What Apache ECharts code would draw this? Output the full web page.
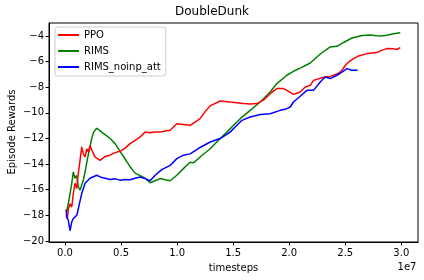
<!DOCTYPE html>
<html>
<head>
<meta charset="utf-8">
<script src="https://cdn.jsdelivr.net/npm/echarts@6/dist/echarts.min.js"></script>
<style>html,body{margin:0;padding:0;background:#fff}#c{width:424px;height:280px}</style>
</head>
<body>
<div id="c"></div>
<script>
// x values in millions of timesteps, y values = episode rewards
const ppoX = [0.1,0.2,0.3,0.45,0.6,0.74,0.89,1.04,1.19,1.34,1.49,1.63,1.79,1.94,2.08,2.23,2.38,2.68,3.13,3.57,4.02,4.46,4.91,5.36,5.8,6.25,6.7,7.14,7.59,8.04,8.48,8.93,9.38,9.97,10.56,11.16,12.05,12.5,12.95,13.84,14.73,15.33,15.92,16.52,17.12,17.7,18.01,18.3,18.9,19.5,19.79,20.38,20.98,21.43,21.88,22.17,22.77,23.21,23.66,23.96,24.4,24.7,25.0,25.29,25.74,26.2,26.94,27.83,28.3,28.72,29.31,29.6,29.91];
const ppoY = [-18.0,-18.25,-17.5,-17.1,-17.35,-16.3,-15.5,-15.9,-14.7,-13.7,-12.65,-13.2,-13.45,-12.8,-13.05,-12.55,-12.9,-13.45,-13.7,-13.4,-13.3,-13.1,-13.0,-12.75,-12.4,-12.15,-11.88,-11.5,-11.55,-11.5,-11.5,-11.42,-11.36,-10.84,-10.9,-10.97,-10.45,-9.9,-9.45,-9.07,-9.15,-9.2,-9.27,-9.3,-9.27,-9.0,-8.76,-8.5,-8.1,-8.1,-8.24,-8.55,-8.37,-7.98,-7.85,-7.46,-7.3,-7.2,-7.15,-7.06,-6.9,-6.67,-6.3,-6.03,-5.76,-5.55,-5.37,-5.29,-5.1,-4.98,-5.0,-5.05,-4.9];

const rimsX = [0.1,0.15,0.29,0.45,0.6,0.74,0.89,1.04,1.19,1.34,1.63,1.79,2.0,2.23,2.38,2.55,2.83,3.13,3.57,4.02,4.46,4.91,5.36,5.8,6.25,6.7,7.14,7.59,8.04,8.48,8.93,9.38,9.97,10.56,11.16,11.46,12.05,12.95,13.84,14.44,15.03,15.63,16.52,17.41,18.3,18.9,19.79,20.38,20.98,21.88,22.77,23.66,24.26,24.85,25.6,26.49,27.23,27.8,28.13,28.72,29.31,29.91];
const rimsY = [-17.5,-17.7,-17.1,-16.3,-15.5,-14.6,-15.1,-14.87,-15.8,-16.04,-15.26,-14.6,-13.57,-12.66,-12.0,-11.5,-11.2,-11.4,-11.7,-12.0,-12.4,-13.0,-13.6,-14.2,-14.7,-14.9,-15.1,-15.45,-15.3,-15.13,-15.22,-15.3,-14.87,-14.35,-13.85,-13.9,-13.44,-12.8,-12.0,-11.5,-10.97,-10.45,-9.8,-9.15,-8.37,-7.71,-7.06,-6.75,-6.5,-6.1,-5.4,-4.85,-4.8,-4.5,-4.15,-3.95,-3.92,-3.98,-4.0,-3.94,-3.82,-3.75];

const noinpX = [0.1,0.15,0.29,0.45,0.55,0.6,0.74,0.89,1.04,1.12,1.28,1.49,1.79,2.23,2.83,3.13,4.02,4.46,4.91,5.36,5.8,6.25,6.7,7.14,7.59,8.04,8.63,9.38,9.97,10.56,11.16,11.75,12.05,12.95,13.84,14.73,15.33,15.78,16.52,17.41,18.3,19.2,19.79,20.09,20.38,20.98,21.58,22.17,22.77,23.21,23.66,24.26,24.7,25.15,25.6,26.1];
const noinpY = [-17.6,-18.1,-18.4,-19.2,-19.3,-18.5,-18.25,-18.4,-18.0,-17.74,-17.1,-16.3,-15.5,-15.1,-14.87,-15.0,-15.2,-15.15,-15.25,-15.2,-15.22,-15.1,-15.0,-15.13,-15.3,-14.87,-14.43,-14.1,-13.57,-13.3,-13.2,-12.87,-12.7,-12.27,-12.0,-11.5,-10.97,-10.58,-10.32,-10.13,-10.06,-9.8,-9.67,-9.54,-9.15,-8.7,-8.24,-8.24,-7.59,-7.2,-7.32,-7.06,-6.81,-6.54,-6.67,-6.67];

const xTicks = [0, 5e6, 1e7, 1.5e7, 2e7, 2.5e7, 3e7];
const yTicks = [-20, -18, -16, -14, -12, -10, -8, -6, -4];

const pairs = (xs, ys) => xs.map((x, i) => [x * 1e6, ys[i]]);
const font = 'DejaVu Sans';
const chart = echarts.init(document.getElementById('c'), null, {renderer: 'canvas'});
chart.setOption({
  animation: false,
  backgroundColor: '#fff',
  grid: {left: 49, top: 23, right: 6, bottom: 38, show: true, borderColor: '#000', borderWidth: 1, containLabel: false},
  xAxis: {
    type: 'value', min: -1.43e6, max: 3.149e7,
    axisLine: {show: true, onZero: false, lineStyle: {color: '#000', width: 1}},
    axisTick: {show: true, length: 3.5, lineStyle: {color: '#000'}, customValues: xTicks},
    axisLabel: {customValues: xTicks, margin: 6, fontFamily: font, fontSize: 10, color: '#000',
      formatter: v => (v / 1e7).toFixed(1)},
    splitLine: {show: false}
  },
  yAxis: {
    type: 'value', min: -20.08, max: -2.98,
    axisLine: {show: true, onZero: false, lineStyle: {color: '#000', width: 1}},
    axisTick: {show: true, length: 3.5, lineStyle: {color: '#000'}, customValues: yTicks},
    axisLabel: {customValues: yTicks, margin: 5, fontFamily: font, fontSize: 10, color: '#000',
      formatter: v => String(v).replace('-', '\u2212')},
    splitLine: {show: false}
  },
  legend: {
    orient: 'vertical', left: 55, top: 27,
    padding: [2, 5, 3, 3], itemGap: 4, itemWidth: 21, itemHeight: 2,
    backgroundColor: 'rgba(255,255,255,0.8)', borderColor: '#cccccc', borderWidth: 1, borderRadius: 3,
    textStyle: {fontFamily: font, fontSize: 10, color: '#000', lineHeight: 12},
    data: [
      {name: 'PPO', icon: 'rect'},
      {name: 'RIMS', icon: 'rect'},
      {name: 'RIMS_noinp_att', icon: 'rect'}
    ]
  },
  graphic: [
    {type: 'text', left: 'center', x: 0, style: {text: 'DoubleDunk', font: '12px "DejaVu Sans"', fill: '#000', x: 233.5, y: 12, textAlign: 'center', textVerticalAlign: 'middle'}},
    {type: 'text', style: {text: 'timesteps', font: '10px "DejaVu Sans"', fill: '#000', x: 233.5, y: 268, textAlign: 'center', textVerticalAlign: 'middle'}},
    {type: 'text', style: {text: '1e7', font: '10px "DejaVu Sans"', fill: '#000', x: 407, y: 267, textAlign: 'center', textVerticalAlign: 'middle'}},
    {type: 'text', x: 12, y: 132, rotation: Math.PI / 2, style: {text: 'Episode Rewards', font: '10px "DejaVu Sans"', fill: '#000', x: 0, y: 0, textAlign: 'center', textVerticalAlign: 'middle'}}
  ],
  series: [
    {name: 'PPO', type: 'line', data: pairs(ppoX, ppoY), showSymbol: false, symbol: 'none', color: '#ff0000', lineStyle: {width: 1.5, color: '#ff0000'}, z: 3},
    {name: 'RIMS', type: 'line', data: pairs(rimsX, rimsY), showSymbol: false, symbol: 'none', color: '#008000', lineStyle: {width: 1.5, color: '#008000'}, z: 2},
    {name: 'RIMS_noinp_att', type: 'line', data: pairs(noinpX, noinpY), showSymbol: false, symbol: 'none', color: '#0000ff', lineStyle: {width: 1.5, color: '#0000ff'}, z: 4}
  ]
});
</script>
</body>
</html>
